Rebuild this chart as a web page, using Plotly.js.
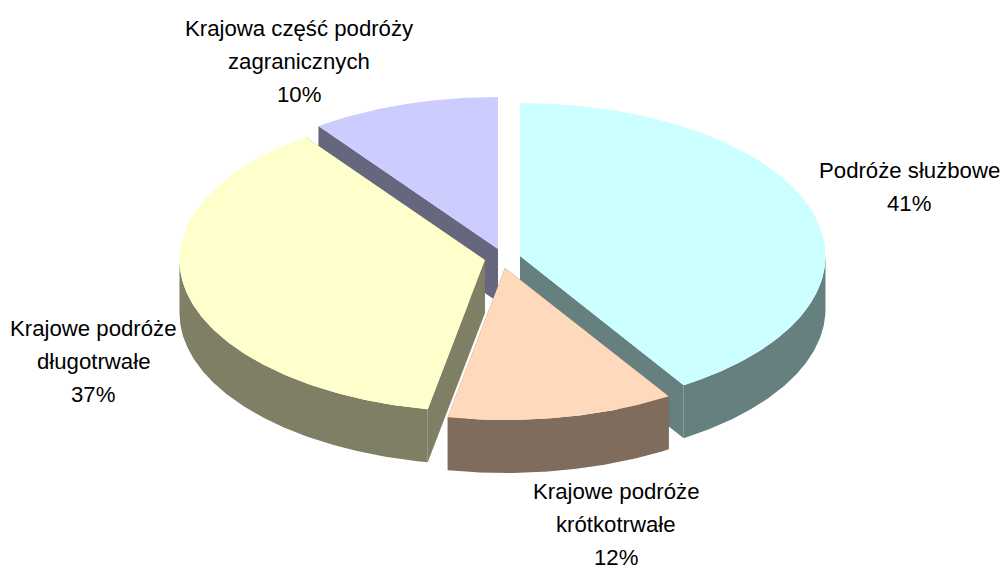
<!DOCTYPE html>
<html>
<head>
<meta charset="utf-8">
<script src="https://cdn.plot.ly/plotly-3.0.1.min.js"></script>
<style>html,body{margin:0;padding:0;background:#fff}#chart{width:1000px;height:569px}</style>
</head>
<body>
<div id="chart"></div>
<script>
// Data
const categories = ["Podróże służbowe", "Krajowe podróże krótkotrwałe", "Krajowe podróże długotrwałe", "Krajowa część podróży zagranicznych"];
const shares = [41, 12, 37, 10];
const labelLines = [["Podróże służbowe", "41%"], ["Krajowe podróże", "krótkotrwałe", "12%"], ["Krajowe podróże", "długotrwałe", "37%"], ["Krajowa część podróży", "zagranicznych", "10%"]];

// Styles
const topColors = ["#CCFFFF", "#FFD9BB", "#FFFFCC", "#CCCCFF"];
const sideColors = ["#667F7F", "#7F6C5D", "#7F7F66", "#66667F"];
const centres = [[520, 256, 153], [505, 268, 152], [485, 260, 152], [498, 249, 152]]; // exploded apex x, y, minor radius
const labelPos = [[909, 170], [616, 491], [93, 328], [299, 28]];
const radiusX = 305.5, depth = 53, linePitch = 33;
const drawOrder = [3, 0, 2, 1];

// Slice angles from the values
const total = shares.reduce((a, b) => a + b, 0);
const angles = [];
let run = 0;
shares.forEach(v => { angles.push([run / total * 2 * Math.PI, (run + v) / total * 2 * Math.PI]); run += v; });

function arc(i, t0, t1, dy) {
  const [cx, cy, rb] = centres[i];
  const n = Math.max(2, Math.ceil(Math.abs(t1 - t0) / (Math.PI / 360)));
  const xs = [], ys = [];
  for (let k = 0; k <= n; k++) {
    const t = t0 + (t1 - t0) * k / n;
    xs.push(cx + radiusX * Math.sin(t));
    ys.push(cy - rb * Math.cos(t) + dy);
  }
  return [xs, ys];
}
function poly(x, y, color, name) {
  return {type: "scatter", mode: "lines", x: x.concat([x[0]]), y: y.concat([y[0]]), fill: "toself",
    fillcolor: color, line: {width: 0, color: color}, hoverinfo: "text", text: name, showlegend: false};
}

const traces = [];
drawOrder.forEach(i => {
  const [t0, t1] = angles[i];
  const [cx, cy] = centres[i];
  const name = categories[i];
  // radial faces that look towards the viewer
  [t0, t1].forEach(t => {
    const [ex, ey] = arc(i, t, t, 0);
    const px = [cx, ex[0], ex[0], cx], py = [cy, ey[0], ey[0] + depth, cy + depth];
    traces.push(poly(px, py, sideColors[i], name));
  });
  // outer rim: only the front half of the ellipse shows
  const a = Math.max(t0, Math.PI / 2), b = Math.min(t1, 3 * Math.PI / 2);
  if (b > a) {
    const [x0, y0] = arc(i, a, b, 0);
    const [x1, y1] = arc(i, b, a, depth);
    traces.push(poly(x0.concat(x1), y0.concat(y1), sideColors[i], name));
  }
  // top face
  const [tx, ty] = arc(i, t0, t1, 0);
  traces.push(poly([cx].concat(tx), [cy].concat(ty), topColors[i], name));
});

const annotations = [];
labelLines.forEach((lines, i) => {
  lines.forEach((line, j) => {
    annotations.push({x: labelPos[i][0], y: labelPos[i][1] + j * linePitch, xref: "x", yref: "y", text: line,
      showarrow: false, xanchor: "center", yanchor: "middle",
      font: {family: "Liberation Sans, Arial, sans-serif", size: 22.2, color: "#000"}});
  });
});

const hidden = {visible: false, fixedrange: true, showgrid: false, zeroline: false};
Plotly.newPlot("chart", traces, {
  width: 1000, height: 569, margin: {l: 0, r: 0, t: 0, b: 0},
  paper_bgcolor: "#fff", plot_bgcolor: "#fff", showlegend: false,
  xaxis: Object.assign({range: [0, 1000]}, hidden),
  yaxis: Object.assign({range: [569, 0]}, hidden),
  annotations: annotations
}, {displayModeBar: false, staticPlot: true});
</script>
</body>
</html>
